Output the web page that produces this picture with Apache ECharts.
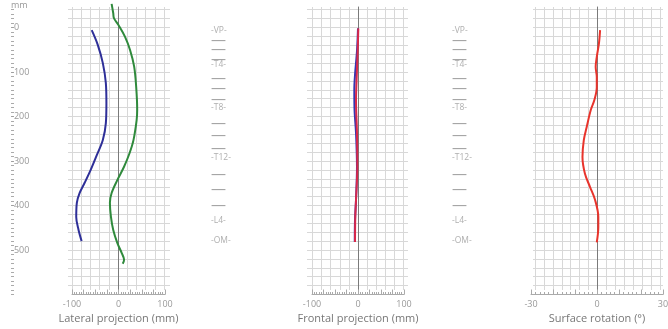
<!DOCTYPE html>
<html><head><meta charset="utf-8">
<script src="https://cdn.jsdelivr.net/npm/echarts@6/dist/echarts.min.js"></script>
<style>html,body{margin:0;padding:0;background:#fff}#c{width:668px;height:329px}</style>
</head><body><div id="c"></div><script>
// ---- data (depth in mm, positive downward) ----
const latBlueDepth = [6,39,80,125,170,215,253,287,320,349,372,394,426,455,480];
const latBlueX     = [-57.6,-44.6,-33.7,-27.2,-26,-27.2,-33.7,-46.7,-59.8,-72.8,-83.7,-89.6,-90.9,-85.9,-79.3];
const latGreenDepth = [-53,-32,-21,-6,21,51,88,133,185,208,253,282,313,343,372,394,425,455,484,507,522,531];
const latGreenX     = [-14.8,-11.3,-9.8,-0.4,14.1,25,33.7,38,40.2,39,32.2,23.9,11.9,-2.6,-14.8,-18.5,-16.3,-11.3,-2.6,7,12,9.1];
const frontBlueDepth = [2,50,107,140,185,237,313,387,433,482];
const frontBlueX     = [0,-2,-6.5,-8,-7.5,-4.3,-2.2,-4.3,-6.5,-7];
const frontRedDepth = [2,51,125,163,237,313,387,426,482];
const frontRedX     = [0.7,-0.7,-3.3,-4.3,-2.2,-1.5,-4.3,-5.9,-6.5];
const rotDepth = [6,35,66,89,111,134,163,185,224,253,291,328,358,387,426,449,483];
const rotDeg   = [1.4,0.9,-0.1,-0.6,-0.1,-0.1,-1.2,-2.8,-4.7,-6.0,-6.6,-5.5,-3.2,-0.9,0.6,0.6,-0.1];
const levelNames = ['-VP-','—','—','—','-T4-','—','—','—','-T8-','—','—','—','-T12-','—','—','—','-L4-','-OM-'];
const levelDepth = [6,30,51,73,84,116,138,163,180,217,244,273,292,331,365,401,433,478];
const depthLabels = [0,100,200,300,400,500];
const panelTitles = ['Lateral projection (mm)','Frontal projection (mm)','Surface rotation (°)'];
const panelMin = [-100,-100,-30];
const panelMax = [100,100,30];
const panelLabelStep = [100,100,30];
const panelTickStep = [25,25,10];

// ---- layout ----
const Y0 = 27.5, K = 0.445;
const yPix = v => Y0 + v * K;
const FONT = 'Open Sans';
const GRID_COL = '#d8d8d8';
const panels = [
  {h:[68,170],  v:[72,164],  vu:5, d:[72,165]},
  {h:[307,408], v:[312.5,403.5], vu:5, d:[312,404]},
  {h:[533,663], v:[535,660], vu:7, d:[531,663]}
];
const grids = [], xAxes = [], yAxes = [], series = [];
function addGrid(left, right, top, height) {
  grids.push({left, width: right - left, top, height, containLabel:false, outerBoundsMode:'none'});
  return grids.length - 1;
}

// left depth ruler
{
  const g = addGrid(11, 12, yPix(-40), 640 * K);
  xAxes.push({gridIndex:g, type:'value', min:0, max:1, show:false});
  yAxes.push({gridIndex:g, type:'value', inverse:true, min:-40, max:600, interval:10, position:'left',
    axisLine:{show:false}, splitLine:{show:false},
    axisTick:{show:true, inside:true, length:3, lineStyle:{color:'#aaa'}},
    axisLabel:{show:true, inside:true, margin:0, color:'#999', fontSize:9, fontFamily:FONT,
      formatter: v => depthLabels.includes(v) ? '-' + v : ''},
    name:'mm', nameLocation:'start', nameGap:4,
    nameTextStyle:{color:'#999', fontSize:9, fontFamily:FONT, align:'left', verticalAlign:'middle'}});
}

panels.forEach((p, i) => {
  // horizontal grid lines
  let g = addGrid(p.h[0], p.h[1], yPix(-40), 620 * K);
  xAxes.push({gridIndex:g, type:'value', min:0, max:1, show:false});
  yAxes.push({gridIndex:g, type:'value', inverse:true, min:-40, max:580, interval:20,
    axisLine:{show:false}, axisTick:{show:false}, axisLabel:{show:false},
    splitLine:{show:true, lineStyle:{color:GRID_COL, width:1}}});
  // vertical grid lines + zero line
  g = addGrid(p.v[0], p.v[1], 7, 283);
  xAxes.push({gridIndex:g, type:'value', min:-p.vu, max:p.vu, interval:1,
    axisLine:{show:false}, axisTick:{show:false}, axisLabel:{show:false},
    splitLine:{show:true, lineStyle:{color:GRID_COL, width:1}}});
  yAxes.push({gridIndex:g, type:'value', min:0, max:1,
    axisLine:{show:true, onZero:true, lineStyle:{color:'#7a7a7a', width:1}},
    axisTick:{show:false}, axisLabel:{show:false}, splitLine:{show:false}});
  // data grid with bottom ruler
  g = addGrid(p.d[0], p.d[1], yPix(-60), 660 * K);
  xAxes.push({gridIndex:g, type:'value', min:panelMin[i], max:panelMax[i], interval:panelTickStep[i], position:'bottom',
    axisLine:{show:true, onZero:false, lineStyle:{color:'#aaa'}},
    axisTick:{show:true, inside:true, length:5, lineStyle:{color:'#aaa'}},
    minorTick:{show:true, splitNumber:5, length:2.5, lineStyle:{color:'#aaa'}},
    splitLine:{show:false},
    axisLabel:{show:true, margin:5, color:'#999', fontSize:9, fontFamily:FONT,
      formatter: v => (v % panelLabelStep[i] === 0) ? String(v) : ''},
    name: panelTitles[i], nameLocation:'middle', nameGap:16,
    nameTextStyle:{color:'#777', fontSize:11, fontFamily:FONT}});
  yAxes.push({gridIndex:g, type:'value', inverse:true, min:-60, max:600, show:false});
  p.dataIndex = xAxes.length - 1;
});

// level label columns
[211, 452].forEach(x => {
  const g = addGrid(x, x + 20, yPix(-60), 660 * K);
  xAxes.push({gridIndex:g, type:'value', min:0, max:1, show:false});
  yAxes.push({gridIndex:g, type:'value', inverse:true, min:-60, max:600, show:false});
  const ai = xAxes.length - 1;
  series.push({type:'scatter', xAxisIndex:ai, yAxisIndex:ai, symbolSize:0, silent:true,
    data: levelDepth.map((d, k) => ({value:[0, d], name: levelNames[k],
      label: levelNames[k] === '—' ? {fontSize:15, color:'#8a8a8a'} : {fontSize:8.5, color:'#9a9a9a'}})),
    label:{show:true, position:'right', distance:0, formatter:'{b}', fontFamily:FONT}});
});

function addLine(panelIdx, xs, ds, color, z) {
  const ai = panels[panelIdx].dataIndex;
  series.push({type:'line', xAxisIndex:ai, yAxisIndex:ai, smooth:0.35, symbol:'none', silent:true, clip:false, z,
    data: xs.map((x, k) => [x, ds[k]]),
    lineStyle:{color, width:2}});
}
addLine(0, latBlueX, latBlueDepth, '#2e2f98', 3);
addLine(0, latGreenX, latGreenDepth, '#2f8a3c', 3);
addLine(1, frontBlueX, frontBlueDepth, '#3535b0', 3);
addLine(1, frontRedX, frontRedDepth, '#d8284a', 4);
addLine(2, rotDeg, rotDepth, '#e8342c', 3);

const chart = echarts.init(document.getElementById('c'), null, {renderer:'canvas'});
chart.setOption({animation:false, backgroundColor:'#fff', grid:grids, xAxis:xAxes, yAxis:yAxes, series});
</script></body></html>
